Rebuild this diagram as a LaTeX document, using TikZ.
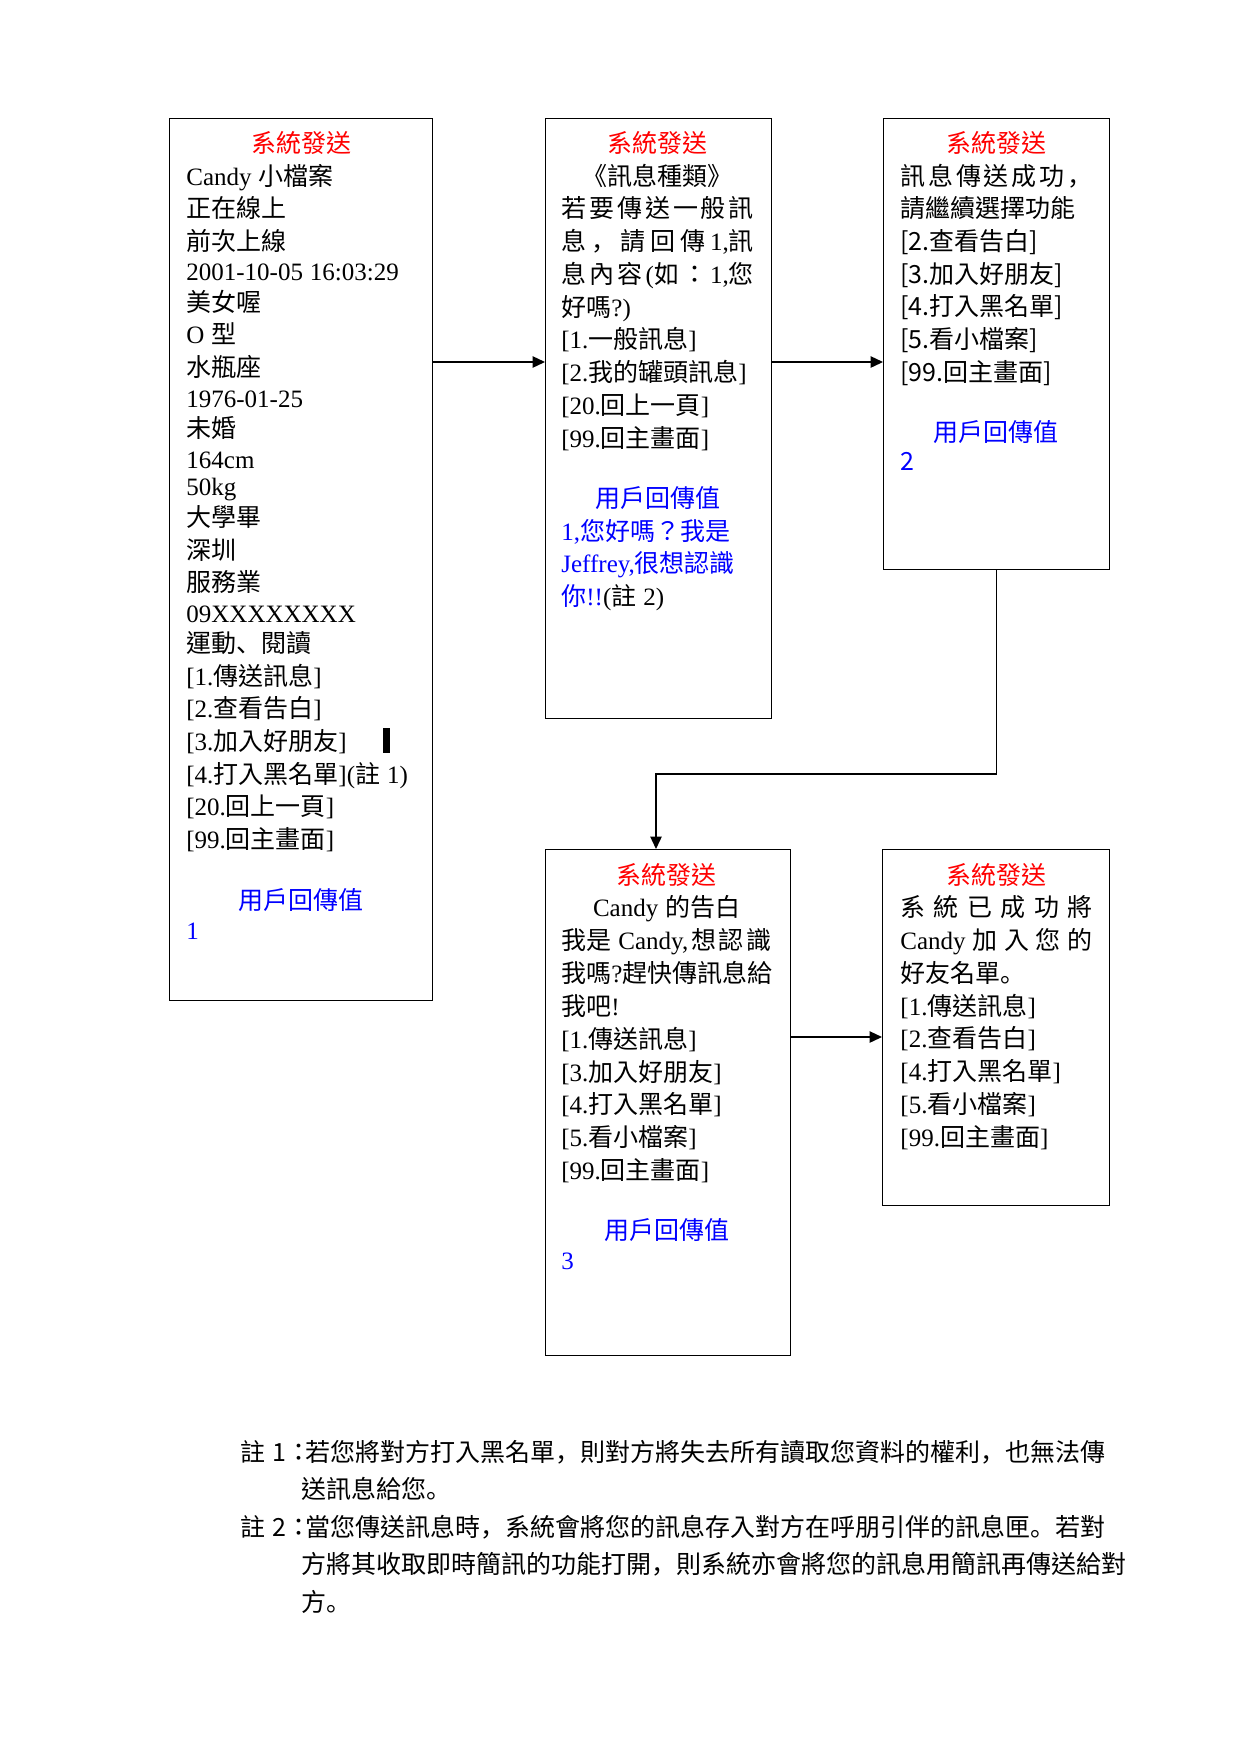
\documentclass[tikz,border=0pt]{standalone}
\usepackage{fontspec}
\setmainfont{Liberation Serif}
\newfontfamily\cjkfont{Noto Sans CJK TC}
\newfontfamily\cjkpunctfont{Noto Sans CJK JP}
\usetikzlibrary{arrows.meta,positioning}

\XeTeXinterchartokenstate=1
\newXeTeXintercharclass\CJKclass
\newXeTeXintercharclass\CJKpunct
\newcount\cjkcode
\def\setcjkrange#1#2#3{\cjkcode=#1\relax
  \loop\XeTeXcharclass\cjkcode=#3
  \ifnum\cjkcode<#2\advance\cjkcode by 1\repeat}
\setcjkrange{"3000}{"303F}{\CJKpunct}
\setcjkrange{"4E00}{"9FFF}{\CJKclass}
\setcjkrange{"FF00}{"FFEF}{\CJKpunct}
\def\latinfont{\rmfamily}
\XeTeXinterchartoks 0 \CJKclass = {\cjkfont}
\XeTeXinterchartoks 4095 \CJKclass = {\cjkfont}
\XeTeXinterchartoks 0 \CJKpunct = {\cjkpunctfont}
\XeTeXinterchartoks 4095 \CJKpunct = {\cjkpunctfont}
\XeTeXinterchartoks \CJKclass \CJKpunct = {\cjkpunctfont}
\XeTeXinterchartoks \CJKpunct \CJKclass = {\cjkfont}
\XeTeXinterchartoks \CJKclass 0 = {\latinfont}
\XeTeXinterchartoks \CJKclass 4095 = {\latinfont}
\XeTeXinterchartoks \CJKpunct 0 = {\latinfont}
\XeTeXinterchartoks \CJKpunct 4095 = {\latinfont}

\definecolor{sysred}{RGB}{255,0,0}
\definecolor{replyblue}{RGB}{0,0,255}
\newcommand{\pitch}[1]{\fontsize{12pt}{#1}\selectfont\lineskiplimit=-100pt\relax}
\newcommand{\sysline}{\makebox[\linewidth]{\textcolor{sysred}{系統發送}}}
\newcommand{\backline}{\makebox[\linewidth]{\textcolor{replyblue}{用戶回傳值}}}
\newcommand{\spread}[1]{\leavevmode\hbox to\linewidth{#1}}

\begin{document}
\begin{tikzpicture}[
            x=0.48pt, y=-0.48pt,
            screen/.style={draw, line width=0.7pt, inner sep=0pt, anchor=north west},
            msg/.style={anchor=base west, inner sep=0pt, align=left},
            flow/.style={-{Triangle[length=6pt,width=5.5pt]}, line width=0.7pt}
            ]
            \useasboundingbox (0,0) rectangle (1240,1754);
            \node[screen, minimum width=126.24pt, minimum height=423.36pt] (profile) at (169,118) {};
            \node[screen, minimum width=108.48pt, minimum height=288pt] (msgtype) at (545,118) {};
            \node[screen, minimum width=108.48pt, minimum height=216.48pt] (sent) at (883,118) {};
            \node[screen, minimum width=117.6pt, minimum height=242.88pt] (confess) at (545,849) {};
            \node[screen, minimum width=108.96pt, minimum height=170.88pt] (added) at (882,849) {};

            \node[msg, text width=110pt] (profiletext) at ([shift={(17,34.5)}]profile.north west) {\pitch{15.65pt}\sysline\\
              Candy 小檔案\\
              正在線上\\
              前次上線\\[-1pt]
              2001-10-05 16:03:29\\[-1pt]
              美女喔\\
              O 型\\
              水瓶座\\[-1pt]
              1976-01-25\\[-1pt]
              未婚\\[-1pt]
              164cm\\[-2.3pt]
              50kg\\[-1pt]
              大學畢\\
              深圳\\
              服務業\\[-1pt]
              09XXXXXXXX\\[-1pt]
              運動、閱讀\\
              {}[1.傳送訊息]\\
              {}[2.查看告白]\\
              {}[3.加入好朋友]\\
              {}[4.打入黑名單](註 1)\\
              {}[20.回上一頁]\\
              {}[99.回主畫面]\\[13.9pt]
              \backline\\[-1.6pt]
              \textcolor{replyblue}{1}\par};
            \fill (383,728) rectangle (390,753);

            \node[msg, text width=92.4pt] (msgtypetext) at ([shift={(16,34.5)}]msgtype.north west) {\pitch{15.71pt}\sysline\\
              \makebox[\linewidth]{《訊息種類》}\\
              \spread{若\hfill 要\hfill 傳\hfill 送\hfill 一\hfill 般\hfill 訊}\\
              \spread{息\hfill ，\hfill 請\hfill 回\hfill 傳\hfill 1,訊}\\
              \spread{息\hfill 內\hfill 容\hfill (如\hfill ：\hfill 1,\hfil 您}\\
              好嗎?)\\
              {}[1.一般訊息]\\
              {}[2.我的罐頭訊息]\\
              {}[20.回上一頁]\\
              {}[99.回主畫面]\\[13.3pt]
              \backline\\
              \textcolor{replyblue}{1,您好嗎？我是}\\
              \textcolor{replyblue}{Jeffrey,很想認識}\\
              \textcolor{replyblue}{你!!}(註 2)\par};

            \node[msg, text width=92.2pt] (senttext) at ([shift={(17,34.5)}]sent.north west) {\pitch{15.67pt}\def\latinfont{\cjkfont}\cjkfont\sysline\\
              \spread{訊\hfill 息\hfill 傳\hfill 送\hfill 成\hfill 功\hfill ，}\\
              請繼續選擇功能\\
              {}[2.查看告白]\\
              {}[3.加入好朋友]\\
              {}[4.打入黑名單]\\
              {}[5.看小檔案]\\
              {}[99.回主畫面]\\[13.3pt]
              \backline\\[-1.6pt]
              \textcolor{replyblue}{2}\par};

            \node[msg, text width=101pt] (confesstext) at ([shift={(16,35)}]confess.north west) {\pitch{15.77pt}\sysline\\
              \makebox[\linewidth]{Candy 的告白}\\
              \spread{我是 Candy,\hfil 想\hfil 認\hfil 識}\\
              我嗎?趕快傳訊息給\\
              我吧!\\
              {}[1.傳送訊息]\\
              {}[3.加入好朋友]\\
              {}[4.打入黑名單]\\
              {}[5.看小檔案]\\
              {}[99.回主畫面]\\[12.8pt]
              \backline\\[-1.2pt]
              \textcolor{replyblue}{3}\par};

            \node[msg, text width=92.2pt] (addedtext) at ([shift={(18,35)}]added.north west) {\pitch{15.73pt}\sysline\\
              \spread{系\hfill 統\hfill 已\hfill 成\hfill 功\hfill 將}\\
              \spread{Candy\hfill 加\hfill 入\hfill 您\hfill 的}\\
              好友名單。\\
              {}[1.傳送訊息]\\
              {}[2.查看告白]\\
              {}[4.打入黑名單]\\
              {}[5.看小檔案]\\
              {}[99.回主畫面]\par};

            \coordinate (row1) at (0,362);
            \coordinate (turn) at (656,774);
            \coordinate (row2) at (0,1037);
            \draw[flow] (profile.east |- row1) -- (msgtype.west |- row1);
            \draw[flow] (msgtype.east |- row1) -- (sent.west |- row1);
            \draw[flow] (sent.south) |- (turn) -- (turn |- confess.north);
            \draw[flow] (confess.east |- row2) -- (added.west |- row2);

            \node[msg, text width=450pt] (note1) at (240,1461) {\pitch{18.1pt}\def\latinfont{\cjkfont}\cjkfont
              \makebox[31.2pt][l]{註 1：}若您將對方打入黑名單，則對方將失去所有讀取您資料的權利，也無法傳\\
              \hspace*{29.3pt}送訊息給您。\par};
            \node[msg, text width=450pt] (note2) at (240,1536) {\pitch{18.1pt}\def\latinfont{\cjkfont}\cjkfont
              \makebox[31.2pt][l]{註 2：}當您傳送訊息時，系統會將您的訊息存入對方在呼朋引伴的訊息匣。若對\\
              \hspace*{29.3pt}方將其收取即時簡訊的功能打開，則系統亦會將您的訊息用簡訊再傳送給對\\
              \hspace*{29.3pt}方。\par};
\end{tikzpicture}
\end{document}
